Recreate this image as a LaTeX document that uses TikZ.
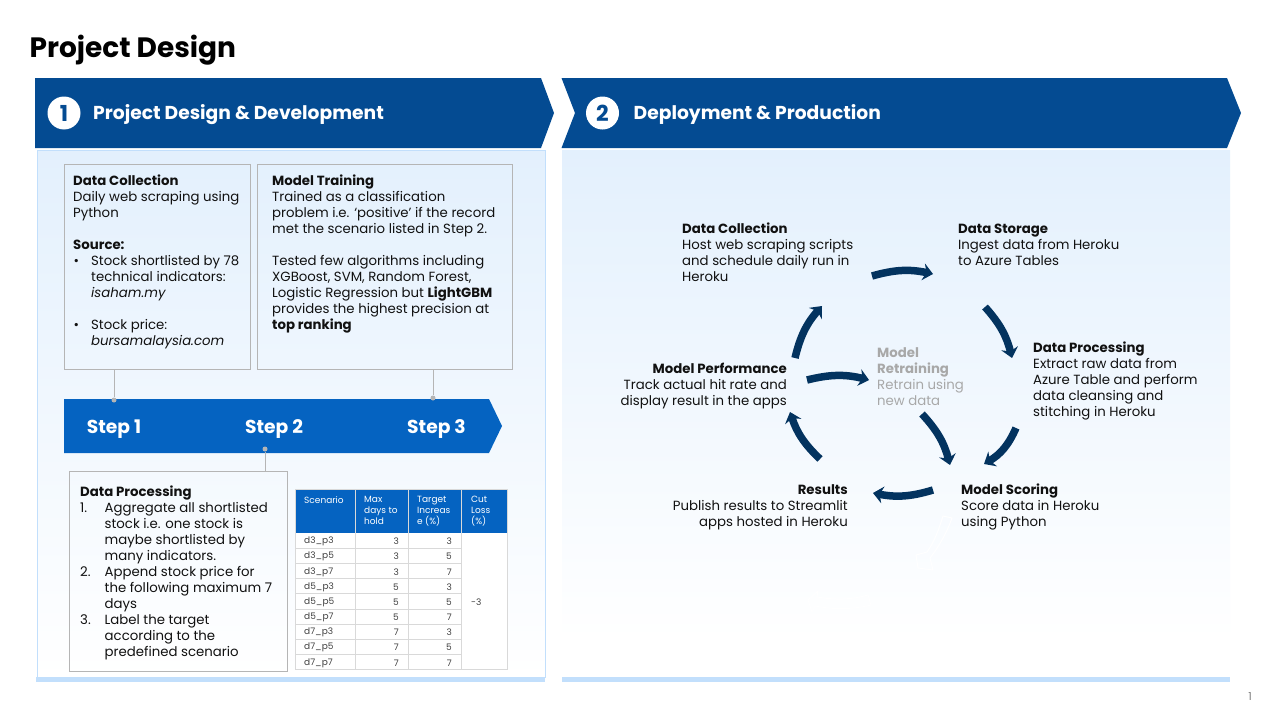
\documentclass[tikz,border=0pt]{standalone}
\usepackage{fontspec}
\setmainfont{Poppins}
\usetikzlibrary{arrows.meta,positioning}
\definecolor{headblue}{HTML}{044B92}
\definecolor{stepblue}{HTML}{0563C1}
\definecolor{flownavy}{HTML}{03335F}
\definecolor{panelblue}{HTML}{E3F0FD}
\definecolor{edgeblue}{HTML}{C2DFFC}
\definecolor{boxgrey}{HTML}{B5B5B5}
\definecolor{tablegrey}{HTML}{D9D9D9}
\definecolor{fadegrey}{HTML}{A8A8A8}
\definecolor{inkblack}{HTML}{111111}

\begin{document}
\begin{tikzpicture}[x=1pt,y=-1pt]
\tikzset{
  bodytext/.style={inner sep=0pt,text=inkblack,font=\fontsize{13.3}{16}\selectfont},
  lefttext/.style={bodytext,anchor=north west,align=left},
  righttext/.style={bodytext,anchor=north east,align=right},
  boxnode/.style={draw=boxgrey,line width=1pt,anchor=north west,inner sep=0pt},
  stepnode/.style={inner sep=0pt,text=white,font=\fontsize{18.7}{22}\selectfont\bfseries},
  headnode/.style={inner sep=0pt,anchor=west,text=white,font=\fontsize{18.7}{22}\selectfont\bfseries},
  numnode/.style={circle,fill=white,minimum size=33pt,inner sep=0pt,text=headblue,font=\fontsize{22}{24}\selectfont\bfseries},
  flow/.style={draw=flownavy,line width=7.5pt,-{Stealth[length=10pt,width=17pt]}},
  pin/.style={draw=boxgrey,line width=1pt},
  pindot/.style={circle,fill=boxgrey,minimum size=5pt,inner sep=0pt},
  ghost/.style={draw=white,line width=1pt,line join=round},
  cellhead/.style={inner sep=0pt,anchor=north west,align=left,text=white,font=\fontsize{9}{11}\selectfont},
  cellname/.style={inner sep=0pt,anchor=west,text=black!75,font=\fontsize{9}{11}\selectfont},
  cellnum/.style={inner sep=0pt,anchor=east,text=black!75,font=\fontsize{9}{11}\selectfont}
}
\useasboundingbox (0,0) rectangle (1280,720);
\fill[white] (0,0) rectangle (1280,720);
\node[inner sep=0pt,anchor=west,font=\fontsize{28}{32}\selectfont\bfseries] (n_title) at (29.5,50) {Project Design};
\fill[headblue] (35,78) -- (541,78) -- (554,113) -- (541,148) -- (35,148) -- cycle;
\fill[headblue] (561.5,78) -- (1227,78) -- (1241,113) -- (1227,148) -- (561.5,148) -- (575,113) -- cycle;
\node[numnode] (n_num1) at (64,113) {1};
\node[numnode] (n_num2) at (602.5,113) {2};
\node[headnode] (n_head1) at (93,114.5) {Project Design \& Development};
\node[headnode] (n_head2) at (633.5,114.5) {Deployment \& Production};
\shade[top color=panelblue,bottom color=white] (37,150) rectangle (545,678);
\draw[edgeblue,line width=1pt] (37,678) -- (37,150) -- (545,150) -- (545,678);
\fill[edgeblue] (36,677) rectangle (545,682);
\shade[top color=panelblue,bottom color=white] (562,150) rectangle (1230,640);
\fill[edgeblue] (562,677) rectangle (1230,682);
\node[boxnode,minimum width=186pt,minimum height=205pt] (n_box1) at (63.5,163.5) {};
\node[boxnode,minimum width=255.5pt,minimum height=205pt] (n_box2) at (256.5,163.5) {};
\node[lefttext] (n_collect) at (73,175) {\textbf{Data Collection}\\Daily web scraping using\\Python\\[16pt]\textbf{Source:}\\\makebox[18pt][l]{\hspace{0.5pt}•}Stock shortlisted by 78\\\hspace*{18pt}technical indicators:\\\hspace*{18pt}\textit{isaham.my}\\[16pt]\makebox[18pt][l]{\hspace{0.5pt}•}Stock price:\\\hspace*{18pt}\textit{bursamalaysia.com}};
\node[lefttext] (n_train) at (272,175) {\textbf{Model Training}\\Trained as a classification\\problem i.e. ‘positive’ if the record\\met the scenario listed in Step 2.\\[16pt]Tested few algorithms including\\XGBoost, SVM, Random Forest,\\Logistic Regression but \textbf{LightGBM}\\provides the highest precision at\\\textbf{top ranking}};
\fill[stepblue] (64,399) -- (489,399) -- (502,426) -- (489,453) -- (64,453) -- cycle;
\node[stepnode] (n_step1) at (114,429) {Step 1};
\node[stepnode] (n_step2) at (274,429) {Step 2};
\node[stepnode] (n_step3) at (436.5,429) {Step 3};
\node[pindot] (n_dot1) at (114,400) {};
\node[pindot] (n_dot3) at (433,398) {};
\node[pindot] (n_dot2) at (265,449) {};
\node[boxnode,minimum width=217.5pt,minimum height=200pt] (n_box3) at (69,471) {};
\draw[pin] (n_box1.south west -| n_dot1) -- (n_dot1);
\draw[pin] (n_box2.south west -| n_dot3) -- (n_dot3);
\draw[pin] (n_dot2) -- (n_box3.north west -| n_dot2);
\node[lefttext] (n_process) at (80,486) {\textbf{Data Processing}\\\makebox[24.5pt][l]{1.}Aggregate all shortlisted\\\hspace*{24.5pt}stock i.e. one stock is\\\hspace*{24.5pt}maybe shortlisted by\\\hspace*{24.5pt}many indicators.\\\makebox[24.5pt][l]{2.}Append stock price for\\\hspace*{24.5pt}the following maximum 7\\\hspace*{24.5pt}days\\\makebox[24.5pt][l]{3.}Label the target\\\hspace*{24.5pt}according to the\\\hspace*{24.5pt}predefined scenario};
\fill[stepblue] (295,489) rectangle (507,533);
\fill[white] (295,533) rectangle (507,669);
\draw[tablegrey,line width=1pt] (295,489) rectangle (507,669);
\draw[tablegrey,line width=1pt] (295,548) -- (461,548);
\draw[tablegrey,line width=1pt] (295,563) -- (461,563);
\draw[tablegrey,line width=1pt] (295,578) -- (461,578);
\draw[tablegrey,line width=1pt] (295,593) -- (461,593);
\draw[tablegrey,line width=1pt] (295,609) -- (461,609);
\draw[tablegrey,line width=1pt] (295,624) -- (461,624);
\draw[tablegrey,line width=1pt] (295,639) -- (461,639);
\draw[tablegrey,line width=1pt] (295,654) -- (461,654);
\draw[tablegrey,line width=1pt] (355,489) -- (355,669);
\draw[tablegrey,line width=1pt] (408,489) -- (408,669);
\draw[tablegrey,line width=1pt] (461,489) -- (461,669);
\node[cellhead] (n_th1) at (304,496) {Scenario};
\node[cellhead] (n_th2) at (364,496) {Max\\days to\\hold};
\node[cellhead] (n_th3) at (417,496) {Target\\Increas\\e (\%)};
\node[cellhead] (n_th4) at (471,496) {Cut\\Loss\\(\%)};
\node[cellname] (n_r1) at (304,541) {d3\_p3};
\node[cellname] (n_r2) at (304,556) {d3\_p5};
\node[cellname] (n_r3) at (304,572) {d3\_p7};
\node[cellname] (n_r4) at (304,587) {d5\_p3};
\node[cellname] (n_r5) at (304,602) {d5\_p5};
\node[cellname] (n_r6) at (304,617) {d5\_p7};
\node[cellname] (n_r7) at (304,632) {d7\_p3};
\node[cellname] (n_r8) at (304,647) {d7\_p5};
\node[cellname] (n_r9) at (304,663) {d7\_p7};
\node[cellnum] (n_d1) at (399,541) {3};
\node[cellnum] (n_d2) at (399,556) {3};
\node[cellnum] (n_d3) at (399,572) {3};
\node[cellnum] (n_d4) at (399,587) {5};
\node[cellnum] (n_d5) at (399,602) {5};
\node[cellnum] (n_d6) at (399,617) {5};
\node[cellnum] (n_d7) at (399,632) {7};
\node[cellnum] (n_d8) at (399,647) {7};
\node[cellnum] (n_d9) at (399,663) {7};
\node[cellnum] (n_p1) at (452,541) {3};
\node[cellnum] (n_p2) at (452,556) {5};
\node[cellnum] (n_p3) at (452,572) {7};
\node[cellnum] (n_p4) at (452,587) {3};
\node[cellnum] (n_p5) at (452,602) {5};
\node[cellnum] (n_p6) at (452,617) {7};
\node[cellnum] (n_p7) at (452,632) {3};
\node[cellnum] (n_p8) at (452,647) {5};
\node[cellnum] (n_p9) at (452,663) {7};
\node[cellname] (n_cut) at (471,602) {-3};
\node[lefttext] (n_dc) at (682,223) {\textbf{Data Collection}\\Host web scraping scripts\\and schedule daily run in\\Heroku};
\node[lefttext] (n_ds) at (958,224) {\textbf{Data Storage}\\Ingest data from Heroku\\to Azure Tables};
\node[lefttext] (n_dp) at (1033,342) {\textbf{Data Processing}\\Extract raw data from\\Azure Table and perform\\data cleansing and\\stitching in Heroku};
\node[lefttext] (n_ms) at (961,484) {\textbf{Model Scoring}\\Score data in Heroku\\using Python};
\node[righttext] (n_res) at (848,484) {\textbf{Results}\\Publish results to Streamlit\\apps hosted in Heroku};
\node[righttext] (n_mp) at (787,363) {\textbf{Model Performance}\\Track actual hit rate and\\display result in the apps};
\node[lefttext,text=fadegrey] (n_mr) at (877,347) {\textbf{Model}\\\textbf{Retraining}\\Retrain using\\new data};
\draw[flow] ([shift={(190,53)}]n_dc.north west) to[bend left=14] ([shift={(-25,50)}]n_ds.north west);
\draw[flow] ([shift={(27,83)}]n_ds.north west) to[bend left=14] ([shift={(-21,16)}]n_dp.north west);
\draw[flow] ([shift={(-17,86)}]n_dp.north west) to[bend left=18] ([shift={(23,-20)}]n_ms.north west);
\draw[flow] ([shift={(-28,6)}]n_ms.north west) to[bend left=14] ([shift={(25,9)}]n_res.north east);
\draw[flow] ([shift={(-28,-25)}]n_res.north east) to[bend left=14] ([shift={(3,49)}]n_mp.north east);
\draw[flow] ([shift={(8,-5)}]n_mp.north east) to[bend left=14] ([shift={(140,83)}]n_dc.north west);
\draw[flow] ([shift={(20,17)}]n_mp.north east) to[bend left=14] ([shift={(-8,33)}]n_mr.north west);
\draw[flow] ([shift={(45,67)}]n_mr.north west) to[bend left=14] ([shift={(-11,-19)}]n_ms.north west);
\draw[ghost] (943,516) .. controls (938,532) and (934,542) .. (927,552) -- (916,555) -- (918,568) -- (933,570) -- (930,558) .. controls (940,545) and (947,532) .. (952,518) -- cycle;
\draw[ghost] (868,595) .. controls (850,600) and (835,600) .. (817,597) -- (818,591) -- (808,600) -- (812,612) -- (815,606) .. controls (835,610) and (855,609) .. (871,605) -- cycle;
\node[inner sep=0pt,text=black!50,font=\fontsize{11}{13}\selectfont] (n_page) at (1250,697) {1};
\end{tikzpicture}
\end{document}
